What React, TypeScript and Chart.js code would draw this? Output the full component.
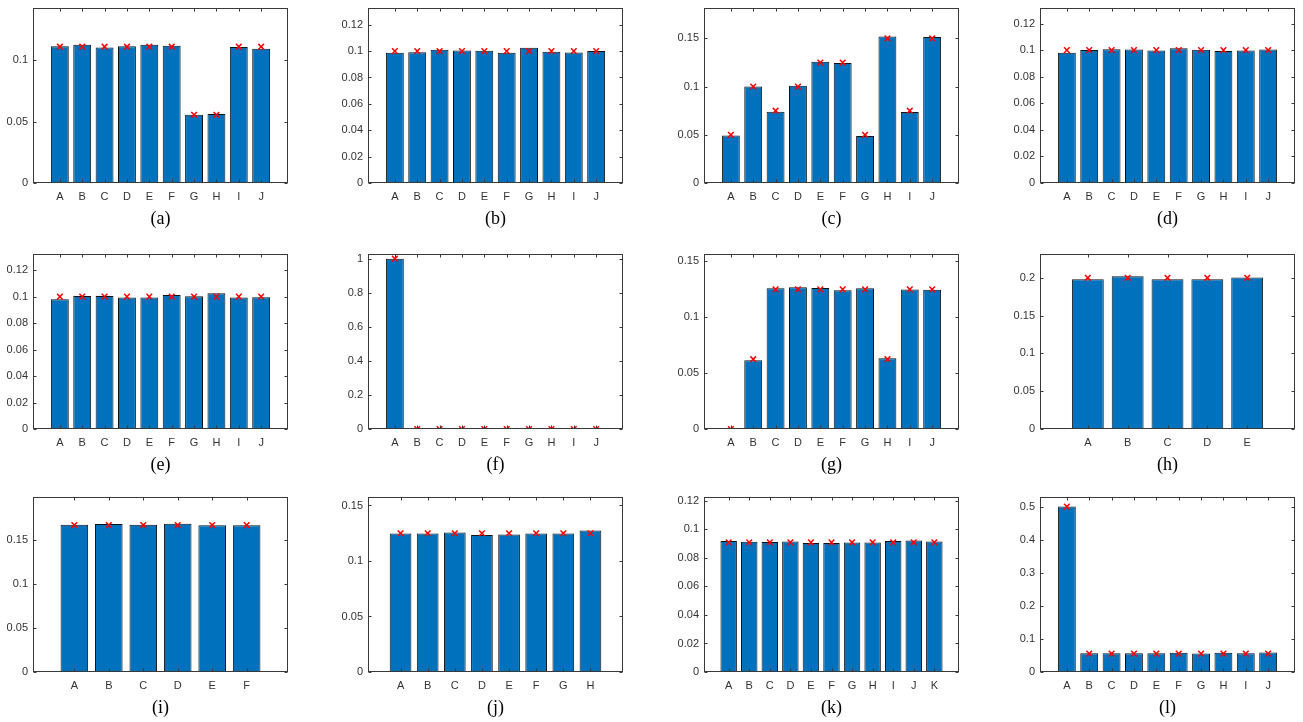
import React, { useEffect, useRef } from "react";
import { Chart, registerables } from "chart.js";
Chart.register(...registerables);

// ---------- data ----------
const cats5 = ["A", "B", "C", "D", "E"];
const cats6 = ["A", "B", "C", "D", "E", "F"];
const cats8 = ["A", "B", "C", "D", "E", "F", "G", "H"];
const cats10 = ["A", "B", "C", "D", "E", "F", "G", "H", "I", "J"];
const cats11 = ["A", "B", "C", "D", "E", "F", "G", "H", "I", "J", "K"];

const ticks002 = [0, 0.02, 0.04, 0.06, 0.08, 0.1, 0.12];
const ticks005a = [0, 0.05, 0.1];
const ticks005b = [0, 0.05, 0.1, 0.15];
const ticks005c = [0, 0.05, 0.1, 0.15, 0.2];
const ticks02 = [0, 0.2, 0.4, 0.6, 0.8, 1];
const ticks01 = [0, 0.1, 0.2, 0.3, 0.4, 0.5];

const valuesA = [0.1114, 0.1127, 0.1105, 0.1114, 0.1127, 0.1119, 0.0557, 0.0562, 0.1108, 0.1095];
const targetsA = [0.1111, 0.1111, 0.1111, 0.1111, 0.1111, 0.1111, 0.0556, 0.0556, 0.1111, 0.1111];

const valuesB = [0.0987, 0.0992, 0.101, 0.1005, 0.1003, 0.0987, 0.1025, 0.0995, 0.099, 0.1];
const targetsB = [0.1, 0.1, 0.1, 0.1, 0.1, 0.1, 0.1, 0.1, 0.1, 0.1];

const valuesC = [0.0492, 0.1001, 0.074, 0.1008, 0.1259, 0.1245, 0.0488, 0.152, 0.0736, 0.1514];
const targetsC = [0.05, 0.1, 0.075, 0.1, 0.125, 0.125, 0.05, 0.15, 0.075, 0.15];

const valuesD = [0.098, 0.1, 0.1007, 0.1005, 0.0998, 0.1015, 0.1002, 0.0993, 0.0998, 0.1005];
const targetsD = [0.1, 0.1, 0.1, 0.1, 0.1, 0.1, 0.1, 0.1, 0.1, 0.1];

const valuesE = [0.098, 0.1005, 0.1005, 0.0993, 0.0993, 0.1013, 0.1003, 0.1025, 0.0993, 0.0995];
const targetsE = [0.1, 0.1, 0.1, 0.1, 0.1, 0.1, 0.1, 0.1, 0.1, 0.1];

const valuesF = [1, 0, 0, 0, 0, 0, 0, 0, 0, 0];
const targetsF = [1, 0, 0, 0, 0, 0, 0, 0, 0, 0];

const valuesG = [0, 0.0615, 0.126, 0.1269, 0.1263, 0.1243, 0.126, 0.0633, 0.1249, 0.1247];
const targetsG = [0, 0.0625, 0.125, 0.125, 0.125, 0.125, 0.125, 0.0625, 0.125, 0.125];

const valuesH = [0.1982, 0.2022, 0.1982, 0.1982, 0.2004];
const targetsH = [0.2, 0.2, 0.2, 0.2, 0.2];

const valuesI = [0.1672, 0.168, 0.1672, 0.1683, 0.1665, 0.1665];
const targetsI = [0.1667, 0.1667, 0.1667, 0.1667, 0.1667, 0.1667];

const valuesJ = [0.1247, 0.1247, 0.1256, 0.1235, 0.1238, 0.1247, 0.1247, 0.1274];
const targetsJ = [0.125, 0.125, 0.125, 0.125, 0.125, 0.125, 0.125, 0.125];

const valuesK = [0.0918, 0.0913, 0.0911, 0.0916, 0.0904, 0.0904, 0.0909, 0.0909, 0.0918, 0.0923, 0.0916];
const targetsK = [0.0909, 0.0909, 0.0909, 0.0909, 0.0909, 0.0909, 0.0909, 0.0909, 0.0909, 0.0909, 0.0909];

const valuesL = [0.5, 0.057, 0.057, 0.057, 0.057, 0.058, 0.056, 0.058, 0.057, 0.059];
const targetsL = [0.5, 0.0556, 0.0556, 0.0556, 0.0556, 0.0556, 0.0556, 0.0556, 0.0556, 0.0556];

const captions = ["(a)", "(b)", "(c)", "(d)", "(e)", "(f)", "(g)", "(h)", "(i)", "(j)", "(k)", "(l)"];
const yMaxes = [0.143, 0.133, 0.182, 0.132, 0.1325, 1.03, 0.157, 0.232, 0.199, 0.158, 0.123, 0.53];

// ---------- layout ----------
const colLeft = [33, 368, 704, 1040];
const rowTop = [6, 252, 495];
const PW = 255;
const PH = 177;
const YW = 30;
const PT = 10;
const PR = 10;
const XH = 25;
const CW = YW + PW + PR;
const CH = PT + PH + XH;

const panelData = [
  { cats: cats10, values: valuesA, targets: targetsA, yTicks: ticks005a },
  { cats: cats10, values: valuesB, targets: targetsB, yTicks: ticks002 },
  { cats: cats10, values: valuesC, targets: targetsC, yTicks: ticks005b },
  { cats: cats10, values: valuesD, targets: targetsD, yTicks: ticks002 },
  { cats: cats10, values: valuesE, targets: targetsE, yTicks: ticks002 },
  { cats: cats10, values: valuesF, targets: targetsF, yTicks: ticks02 },
  { cats: cats10, values: valuesG, targets: targetsG, yTicks: ticks005b },
  { cats: cats5, values: valuesH, targets: targetsH, yTicks: ticks005c },
  { cats: cats6, values: valuesI, targets: targetsI, yTicks: ticks005b },
  { cats: cats8, values: valuesJ, targets: targetsJ, yTicks: ticks005b },
  { cats: cats11, values: valuesK, targets: targetsK, yTicks: ticks002 },
  { cats: cats10, values: valuesL, targets: targetsL, yTicks: ticks01 },
];

const frame = {
  id: "frame",
  afterDatasetsDraw(chart: any) {
    const { ctx, chartArea: a, scales } = chart;
    ctx.save();
    ctx.strokeStyle = "#3a3a3a";
    ctx.lineWidth = 1;
    const l = Math.round(a.left) + 0.5;
    const r = Math.round(a.right) - 0.5;
    const t = Math.round(a.top) + 0.5;
    const b = Math.round(a.bottom) - 0.5;
    ctx.strokeRect(l, t, r - l, b - t);
    ctx.beginPath();
    scales.y.ticks.forEach((tk: any) => {
      const y = Math.round(scales.y.getPixelForValue(tk.value)) + 0.5;
      ctx.moveTo(l, y);
      ctx.lineTo(l + 3, y);
      ctx.moveTo(r, y);
      ctx.lineTo(r - 3, y);
    });
    scales.x.ticks.forEach((tk: any) => {
      const x = Math.round(scales.x.getPixelForValue(tk.value)) + 0.5;
      ctx.moveTo(x, t);
      ctx.lineTo(x, t + 3);
      ctx.moveTo(x, b);
      ctx.lineTo(x, b - 3);
    });
    ctx.stroke();
    ctx.restore();
  },
};

function Panel({ idx }: { idx: number }) {
  const ref = useRef<HTMLCanvasElement>(null);
  const d = panelData[idx];
  const left = colLeft[idx % 4];
  const top = rowTop[Math.floor(idx / 4)];

  useEffect(() => {
    const n = d.cats.length;
    const tickFont = { family: "'Liberation Sans', Arial, sans-serif", size: 11 };
    const chart = new Chart(ref.current as HTMLCanvasElement, {
      type: "bar",
      data: {
        datasets: [
          {
            type: "scatter",
            data: d.targets.map((v, i) => ({ x: i + 1, y: v })),
            pointStyle: "crossRot",
            pointRadius: 4,
            pointBorderWidth: 1.5,
            borderColor: "#ff0000",
            backgroundColor: "#ff0000",
            order: 0,
          } as any,
          {
            type: "bar",
            data: d.values.map((v, i) => ({ x: i + 1, y: v })),
            backgroundColor: "#0072BD",
            borderColor: "#111111",
            borderWidth: 1,
            barPercentage: 0.8,
            categoryPercentage: 1,
            order: 1,
          } as any,
        ],
      },
      options: {
        animation: false,
        responsive: false,
        devicePixelRatio: 1,
        layout: { padding: { left: 0, top: PT, right: PR, bottom: 0 } },
        plugins: { legend: { display: false }, tooltip: { enabled: false } },
        scales: {
          x: {
            type: "linear",
            offset: false,
            min: 1 - 1.2,
            max: n + 1.2,
            grid: { display: false, drawTicks: false },
            border: { display: false },
            afterBuildTicks: (s: any) => {
              s.ticks = d.cats.map((_, i) => ({ value: i + 1 }));
            },
            afterFit: (s: any) => {
              s.height = XH;
            },
            ticks: {
              autoSkip: false,
              maxRotation: 0,
              padding: 7,
              color: "#333333",
              font: tickFont,
              callback: (v: any) => d.cats[Number(v) - 1] ?? "",
            },
          },
          y: {
            type: "linear",
            min: 0,
            max: yMaxes[idx],
            grid: { display: false, drawTicks: false },
            border: { display: false },
            afterBuildTicks: (s: any) => {
              s.ticks = d.yTicks.map((v) => ({ value: v }));
            },
            afterFit: (s: any) => {
              s.width = YW;
            },
            ticks: {
              padding: 5,
              color: "#333333",
              font: tickFont,
              callback: (v: any) => String(v),
            },
          },
        },
      },
      plugins: [frame],
    });
    return () => chart.destroy();
  }, []);

  return (
    <>
      <canvas
        ref={ref}
        width={CW}
        height={CH}
        style={{ position: "absolute", left: left - YW, top: top - PT, width: CW, height: CH }}
      />
      <div
        style={{
          position: "absolute",
          left: left,
          width: PW,
          top: top + 201,
          textAlign: "center",
          fontFamily: "'Liberation Serif', 'DejaVu Serif', serif",
          fontSize: 18,
          lineHeight: "22px",
          color: "#000",
        }}
      >
        {captions[idx]}
      </div>
    </>
  );
}

export default function App() {
  return (
    <div
      style={{
        position: "fixed",
        left: 0,
        top: 0,
        width: 1303,
        height: 722,
        background: "#ffffff",
        overflow: "hidden",
      }}
    >
      {panelData.map((_, i) => (
        <Panel key={i} idx={i} />
      ))}
    </div>
  );
}
